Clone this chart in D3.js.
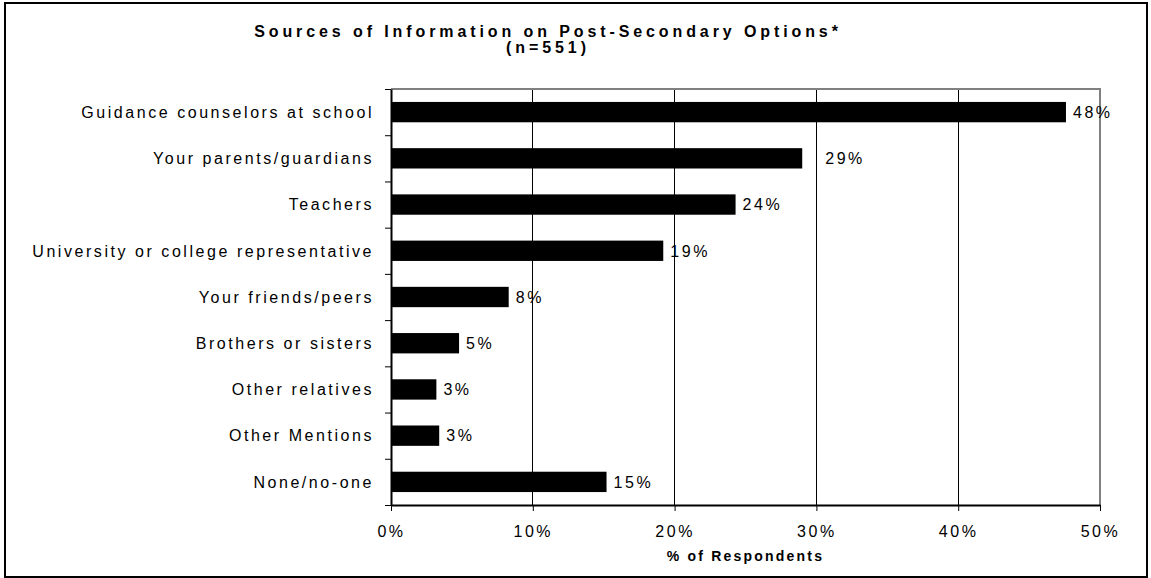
<!DOCTYPE html>
<html>
<head>
<meta charset="utf-8">
<script src="https://cdn.jsdelivr.net/npm/d3@7/dist/d3.min.js"></script>
<style>
  html, body { margin: 0; padding: 0; background: #fff; }
  svg text { font-family: Arial, "Liberation Sans", sans-serif; fill: #000; }
</style>
</head>
<body>
<svg id="chart" width="1151" height="578"></svg>
<script>
// Survey answers: where students got information about post-secondary options
const categories = [
  "Guidance counselors at school",
  "Your parents/guardians",
  "Teachers",
  "University or college representative",
  "Your friends/peers",
  "Brothers or sisters",
  "Other relatives",
  "Other Mentions",
  "None/no-one"
];
const shares = [0.476, 0.290, 0.243, 0.192, 0.083, 0.048, 0.032, 0.034, 0.152];
const xTicks = [0, 0.1, 0.2, 0.3, 0.4, 0.5];
const titleLines = ["Sources of Information on Post-Secondary Options*", "(n=551)"];
const xAxisTitle = "% of Respondents";

const svg = d3.select("#chart");
const plot = { left: 391, right: 1100, top: 89, bottom: 505 };
const labelFont = "16px";
const labelSpacing = "2.55px";

// frame around the whole chart
svg.append("rect")
  .attr("x", 5).attr("y", 3)
  .attr("width", 1142).attr("height", 574)
  .attr("fill", "none").attr("stroke", "#000").attr("stroke-width", 2);

const x = d3.scaleLinear().domain([0, 0.5]).range([plot.left, plot.right]);
const y = d3.scaleBand().domain(categories).range([plot.top, plot.bottom]).paddingInner(0.56).paddingOuter(0.28);
const pct = d3.format(".0%");

// vertical gridlines
svg.append("g")
  .selectAll("line")
  .data(xTicks.slice(1, -1))
  .join("line")
  .attr("x1", d => x(d)).attr("x2", d => x(d))
  .attr("y1", plot.top).attr("y2", plot.bottom)
  .attr("stroke", "#000").attr("stroke-width", 1)
  .attr("shape-rendering", "crispEdges");

// grey plot border on top and right
svg.append("path")
  .attr("d", `M${plot.left},${plot.top}H${plot.right}V${plot.bottom}`)
  .attr("fill", "none").attr("stroke", "#808080").attr("stroke-width", 2);

// bars
svg.append("g")
  .selectAll("rect")
  .data(categories)
  .join("rect")
  .attr("x", x(0))
  .attr("y", d => y(d))
  .attr("width", (d, i) => x(shares[i]) - x(0))
  .attr("height", y.bandwidth())
  .attr("fill", "#000");

// value labels (the parents/guardians label sits further out)
const labelNudge = { "Your parents/guardians": 16 };
svg.append("g")
  .selectAll("text")
  .data(categories)
  .join("text")
  .attr("x", (d, i) => x(shares[i]) + 7 + (labelNudge[d] || 0))
  .attr("y", d => y(d) + y.bandwidth() / 2)
  .attr("dy", "0.36em")
  .style("font-size", labelFont)
  .style("letter-spacing", labelSpacing)
  .text((d, i) => pct(shares[i]));

// x axis
const xAxis = d3.axisBottom(x)
  .tickValues(xTicks)
  .tickFormat(pct)
  .tickSizeInner(6).tickSizeOuter(0).tickPadding(15);
const gx = svg.append("g")
  .attr("transform", `translate(0,${plot.bottom})`)
  .call(xAxis);
gx.select(".domain").attr("stroke", "#000").attr("stroke-width", 2);
gx.selectAll(".tick line").attr("stroke", "#000");
gx.selectAll(".tick text")
  .attr("font-family", null)
  .attr("font-size", null)
  .style("font-size", labelFont)
  .style("letter-spacing", labelSpacing);

// y axis: ticks fall on category boundaries
const yLine = d3.scaleLinear().domain([0, categories.length]).range([plot.top, plot.bottom]);
const gy = svg.append("g").attr("transform", `translate(${plot.left},0)`);
gy.call(d3.axisLeft(yLine).tickValues(d3.range(categories.length + 1)).tickFormat("").tickSizeInner(6).tickSizeOuter(0));
gy.select(".domain").attr("stroke", "#000").attr("stroke-width", 2);
gy.selectAll(".tick line").attr("stroke", "#000");

// category labels
svg.append("g")
  .selectAll("text")
  .data(categories)
  .join("text")
  .attr("x", plot.left - 17)
  .attr("y", d => y(d) + y.bandwidth() / 2)
  .attr("dy", "0.36em")
  .attr("text-anchor", "end")
  .style("font-size", labelFont)
  .style("letter-spacing", labelSpacing)
  .text(d => d);

// chart title
svg.append("g")
  .selectAll("text")
  .data(titleLines)
  .join("text")
  .attr("x", 548)
  .attr("y", (d, i) => 37 + i * 16)
  .attr("text-anchor", "middle")
  .style("font-size", "16px")
  .style("font-weight", "bold")
  .style("letter-spacing", "3.9px")
  .text(d => d);

// x axis title
svg.append("text")
  .attr("x", (plot.left + plot.right) / 2)
  .attr("y", 561)
  .attr("text-anchor", "middle")
  .style("font-size", "14px")
  .style("font-weight", "bold")
  .style("letter-spacing", "2.2px")
  .text(xAxisTitle);
</script>
</body>
</html>
